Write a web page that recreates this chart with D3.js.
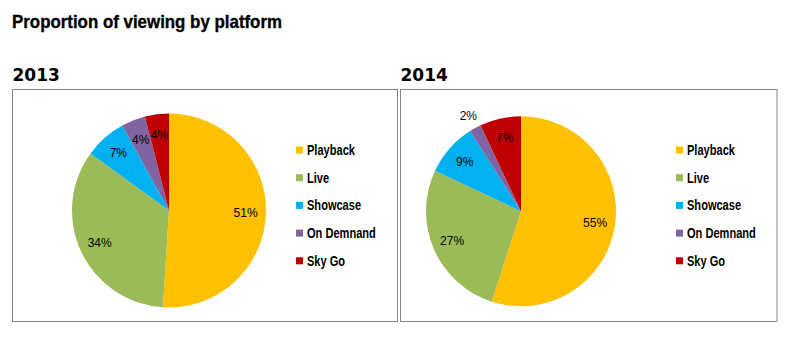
<!DOCTYPE html>
<html>
<head>
<meta charset="utf-8">
<script src="https://cdn.jsdelivr.net/npm/d3@7"></script>
<style>
  html, body { margin: 0; padding: 0; background: #fff; }
  svg { display: block; }
</style>
</head>
<body>
<svg id="chart" width="789" height="341"></svg>
<script>
// ---- data ----
const title = "Proportion of viewing by platform";
const categories = ["Playback", "Live", "Showcase", "On Demnand", "Sky Go"];
const years = ["2013", "2014"];
const values2013 = [51, 34, 7, 4, 4];
const values2014 = [55, 27, 9, 2, 7];
const colors = ["#FFC000", "#9BBB59", "#00B0F0", "#8064A2", "#C00000"];

// ---- layout ----
const svg = d3.select("#chart");
const sans = "'Liberation Sans', Arial, sans-serif";
const squeeze = 0.79; // narrow-face imitation

svg.append("text")
  .attr("x", 12).attr("y", 28.3)
  .attr("font-family", sans)
  .attr("font-weight", "bold")
  .attr("font-size", 18.5)
  .attr("textLength", 270)
  .attr("lengthAdjust", "spacingAndGlyphs")
  .attr("fill", "#000")
  .attr("stroke", "#000")
  .attr("stroke-width", 0.35)
  .text(title);

const panels = [
  { year: years[0], values: values2013, box: [12.5, 89.5, 385, 232], cx: 169, cy: 210.5, r: 97, legendX: 296 },
  { year: years[1], values: values2014, box: [400.5, 89.5, 376.5, 232], cx: 521, cy: 211.3, r: 95, legendX: 676 }
];

const pie = d3.pie().sort(null).value(d => d.v);

panels.forEach(p => {
  const g = svg.append("g");
  g.append("text")
    .attr("x", p.box[0]).attr("y", 80.7)
    .attr("font-family", "'DejaVu Sans', sans-serif")
    .attr("font-weight", "bold")
    .attr("font-size", 17)
    .attr("fill", "#000")
    .text(p.year);
  g.append("rect")
    .attr("x", p.box[0]).attr("y", p.box[1])
    .attr("width", p.box[2]).attr("height", p.box[3])
    .attr("fill", "#fff")
    .attr("stroke", "#878787")
    .attr("stroke-width", 1);

  const data = categories.map((c, i) => ({ c, v: p.values[i], color: colors[i] }));
  const arcs = pie(data);
  const arc = d3.arc().innerRadius(0).outerRadius(p.r);
  const pg = g.append("g").attr("transform", `translate(${p.cx},${p.cy})`);
  pg.selectAll("path").data(arcs).join("path")
    .attr("d", arc)
    .attr("fill", d => d.data.color);

  pg.selectAll("text").data(arcs).join("text")
    .attr("transform", d => {
      const k = d.data.v < 3 ? 1.15 : 0.79;
      const la = d3.arc().innerRadius(p.r * k).outerRadius(p.r * k);
      const [x, y] = la.centroid(d);
      return `translate(${x},${y})`;
    })
    .attr("text-anchor", "middle")
    .attr("dy", "0.36em")
    .attr("font-family", sans)
    .attr("font-size", 12)
    .attr("fill", "#000")
    .text(d => d.data.v + "%");

  const rowY = d3.scalePoint().domain(categories).range([150, 260.8]);
  const items = g.append("g").selectAll("g").data(data).join("g")
    .attr("transform", d => `translate(${p.legendX},${rowY(d.c)})`);
  items.append("rect")
    .attr("x", 0).attr("y", -3.5)
    .attr("width", 7).attr("height", 7)
    .attr("fill", d => d.color);
  items.append("text")
    .attr("transform", `translate(11,5) scale(${squeeze},1)`)
    .attr("font-family", sans)
    .attr("font-weight", "bold")
    .attr("font-size", 14)
    .attr("fill", "#000")
    .text(d => d.c);
});
</script>
</body>
</html>
